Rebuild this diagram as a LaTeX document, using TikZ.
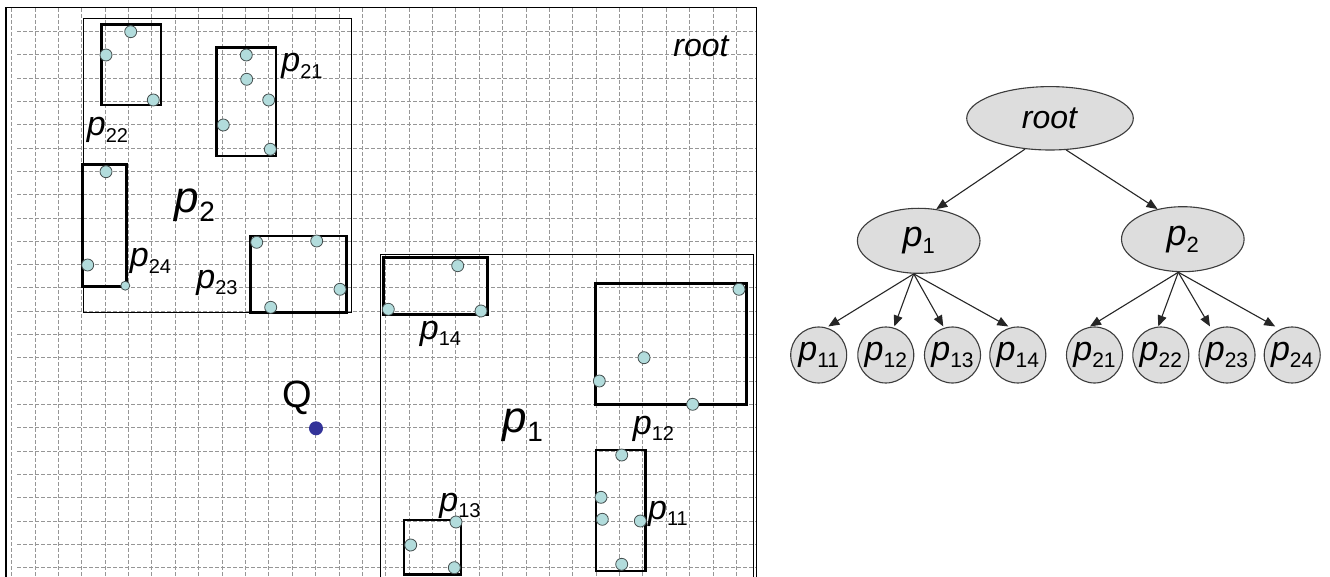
\documentclass[tikz,border=0pt]{standalone}
\usepackage{fontspec}
\setmainfont{Liberation Sans}
\usetikzlibrary{arrows.meta,shapes.geometric}
\definecolor{gridc}{RGB}{150,150,150}
\definecolor{ptfill}{RGB}{178,220,220}
\definecolor{ptdraw}{RGB}{70,80,80}
\definecolor{qblue}{RGB}{51,51,153}
\definecolor{nodefill}{RGB}{221,221,221}
\definecolor{nodedraw}{RGB}{60,60,60}
\newcommand\plab[3]{{\fontsize{#1}{#1}\selectfont\textit{p}\raisebox{-0.2em}{\fontsize{#2}{#2}\selectfont #3}}}
\begin{document}
\begin{tikzpicture}[x=1pt,y=-1pt,
  gridline/.style={draw=gridc, line width=1pt, dash pattern=on 4pt off 2pt},
  region/.style={draw=black, line width=0.9pt},
  mbr/.style={draw=black, line width=2.6pt},
  pt/.style={circle, fill=ptfill, draw=ptdraw, line width=0.8pt, inner sep=0pt, minimum size=12pt},
  lab/.style={inner sep=0pt, anchor=center},
  tnode/.style={ellipse, fill=nodefill, draw=nodedraw, line width=1.1pt, inner sep=0pt},
  leaf/.style={circle, fill=nodefill, draw=nodedraw, line width=1.1pt, inner sep=0pt, minimum size=56pt},
  edge/.style={draw=black!85, line width=1.1pt, -{Triangle[length=11pt,width=9pt]}}
]
\useasboundingbox (0,0) rectangle (1330,577);
\fill[white] (0,0) rectangle (1330,577);
% grid
\begin{scope}
\clip (5,7) rectangle (757,577);
\foreach \i in {0,...,31} \draw[gridline] ({11.7+23.38*\i},8) -- ({11.7+23.38*\i},580);
\foreach \j in {0,...,23} \draw[gridline] (17,{31.7+23.3*\j}) -- (757,{31.7+23.3*\j});
\end{scope}
% frame
\draw[line width=1.2pt] (756.7,580) -- (756.7,7.5) -- (6,7.5);
\draw[line width=2pt] (6,7.5) -- (6,580);
% regions
\draw[region] (83.3,18.3) rectangle (351,312.3);
\draw[region] (380,254.3) rectangle (753.3,590);
% MBRs
\draw[mbr] (101.7,24.3) rectangle (161,105);
\draw[mbr] (216.7,47.7) rectangle (276,156);
\draw[mbr] (82.7,164.3) rectangle (126.7,286.7);
\draw[mbr] (250.7,236) rectangle (346.7,312.3);
\draw[mbr] (383.3,257.7) rectangle (487.7,314.7);
\draw[mbr] (595.7,283.7) rectangle (746.7,404.7);
\draw[mbr] (596,450) rectangle (645.3,571);
\draw[mbr] (404,520) rectangle (461,574.5);
% points p2
\node[pt] (a1) at (130.7,31.7) {};
\node[pt] (a2) at (106,55) {};
\node[pt] (a3) at (153.3,100) {};
\node[pt] (a4) at (246.3,55) {};
\node[pt] (a5) at (246.7,79.3) {};
\node[pt] (a6) at (268.7,100) {};
\node[pt] (a7) at (223.3,125) {};
\node[pt] (a8) at (270.3,149.3) {};
\node[pt] (a9) at (106,171.7) {};
\node[pt] (a10) at (87.7,265) {};
\node[pt, minimum size=9pt] (a11) at (125.3,285.7) {};
\node[pt] (a12) at (256.7,242.3) {};
\node[pt] (a13) at (316.7,241) {};
\node[pt] (a14) at (340,289.3) {};
\node[pt] (a15) at (270.7,307.3) {};
% points p1
\node[pt] (b1) at (457.7,265.7) {};
\node[pt] (b2) at (388.3,309.3) {};
\node[pt] (b3) at (481,311) {};
\node[pt] (b4) at (739,289.3) {};
\node[pt] (b5) at (644,357.7) {};
\node[pt] (b6) at (599.3,381) {};
\node[pt] (b7) at (692.7,404.3) {};
\node[pt] (b8) at (621.7,455) {};
\node[pt] (b9) at (601,497.3) {};
\node[pt] (b10) at (602.3,519.3) {};
\node[pt] (b11) at (640.3,521) {};
\node[pt] (b12) at (621.7,564.3) {};
\node[pt] (b13) at (456,522) {};
\node[pt] (b14) at (410.7,545) {};
\node[pt] (b15) at (454.3,567.7) {};
% query
\node[circle, fill=qblue, inner sep=0pt, minimum size=14pt] (q) at (316,428.3) {};
\node[lab, font=\fontsize{38}{38}\selectfont] (qlab) at (297.5,398) {Q};
% labels left
\node[lab] (l21t) at (302,66) {\plab{34}{20}{21}};
\node[lab] (l22t) at (107.5,130) {\plab{34}{20}{22}};
\node[lab] (l24t) at (150.5,261) {\plab{34}{20}{24}};
\node[lab] (l23t) at (217,282.5) {\plab{34}{20}{23}};
\node[lab] (l2t) at (195,205.5) {\plab{44}{28}{2}};
\node[lab] (l14t) at (440.5,333.5) {\plab{34}{20}{14}};
\node[lab] (l1t) at (523,425) {\plab{44}{28}{1}};
\node[lab] (l12t) at (653.5,428.5) {\plab{34}{20}{12}};
\node[lab] (l13t) at (460,505.5) {\plab{34}{20}{13}};
\node[lab] (l11t) at (668,513.5) {\plab{34}{20}{11}};
\node[lab, font=\fontsize{32}{32}\selectfont] (rootlab) at (701.5,46.5) {\textit{root}};
% tree
\node[tnode, minimum width=166.6pt, minimum height=63.4pt] (root) at (1050,118.3) {\fontsize{32}{32}\selectfont\textit{root}};
\node[tnode, minimum width=122.6pt, minimum height=65pt] (p1) at (918.7,240.8) {\plab{36}{22}{1}};
\node[tnode, minimum width=122.6pt, minimum height=65pt] (p2) at (1182.8,239.2) {\plab{36}{22}{2}};
\node[leaf] (n11) at (818.7,355) {\plab{34}{21}{11}};
\node[leaf] (n12) at (885.8,355) {\plab{34}{21}{12}};
\node[leaf] (n13) at (952.5,355) {\plab{34}{21}{13}};
\node[leaf] (n14) at (1017.8,355) {\plab{34}{21}{14}};
\node[leaf] (n21) at (1094.5,355) {\plab{34}{21}{21}};
\node[leaf] (n22) at (1160.8,355) {\plab{34}{21}{22}};
\node[leaf] (n23) at (1227,355) {\plab{34}{21}{23}};
\node[leaf] (n24) at (1292.2,355) {\plab{34}{21}{24}};
\draw[edge] (root.231) -- (p1.61);
\draw[edge] (root.297) -- (p2.130);
\draw[edge] ([xshift=-5pt]p1.south) -- ([xshift=9.6pt]n11.north);
\draw[edge] ([xshift=-5pt]p1.south) -- ([xshift=8.5pt]n12.north);
\draw[edge] ([xshift=-5pt]p1.south) -- ([xshift=-9.2pt]n13.north);
\draw[edge] ([xshift=-5pt]p1.south) -- ([xshift=-9.5pt]n14.north);
\draw[edge] ([xshift=-4.5pt]p2.south) -- ([xshift=-4.5pt]n21.north);
\draw[edge] ([xshift=-4.5pt]p2.south) -- ([xshift=-2.5pt]n22.north);
\draw[edge] ([xshift=-4.5pt]p2.south) -- ([xshift=-17pt]n23.north);
\draw[edge] ([xshift=-4.5pt]p2.south) -- ([xshift=-17pt]n24.north);
\end{tikzpicture}
\end{document}
